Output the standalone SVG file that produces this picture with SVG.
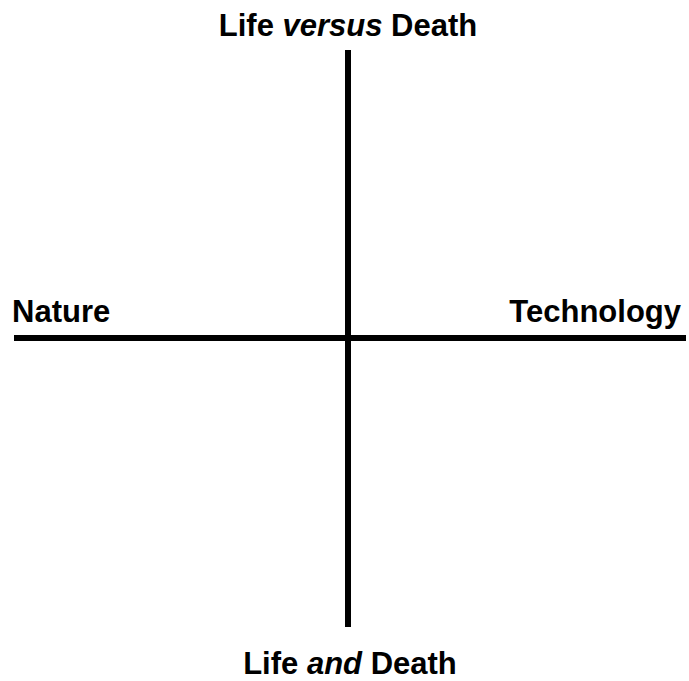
<svg xmlns="http://www.w3.org/2000/svg" width="689" height="681" viewBox="0 0 689 681">
<style>
.t{font-family:"Liberation Sans",Arial,sans-serif;font-weight:bold;font-size:31px;fill:#000}
.ax{stroke:#000;stroke-width:6;fill:none}
</style>
<rect width="689" height="681" fill="#fff"/>
<g id="axes">
<line class="ax" x1="348" y1="50" x2="348" y2="627"/>
<line class="ax" x1="14" y1="338" x2="686" y2="338"/>
</g>
<g id="top"><text class="t" x="348" y="36" text-anchor="middle">Life <tspan font-style="italic">versus</tspan> Death</text></g>
<g id="left"><text class="t" x="12" y="322">Nature</text></g>
<g id="right"><text class="t" x="681" y="322" text-anchor="end">Technology</text></g>
<g id="bottom"><text class="t" x="350" y="674" text-anchor="middle">Life <tspan font-style="italic">and</tspan> Death</text></g>
</svg>
